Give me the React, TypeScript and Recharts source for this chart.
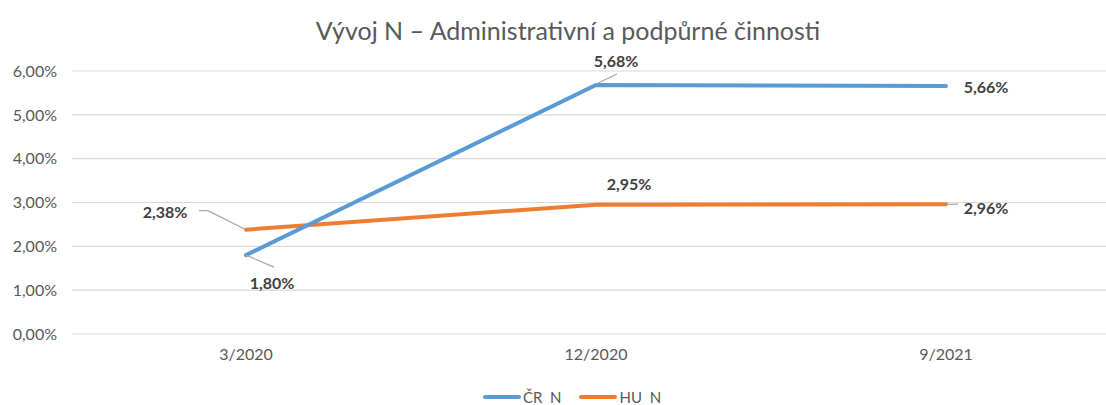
import { LineChart, Line, XAxis, YAxis, CartesianGrid } from 'recharts';

const obdobi = ['3/2020', '12/2020', '9/2021'];
const crN = [1.8, 5.68, 5.66];
const huN = [2.38, 2.95, 2.96];
const yTicks = [0, 1, 2, 3, 4, 5, 6];

const MODRA = '#5B9BD5';
const ORANZOVA = '#ED7D31';
const FONT = 'Lato, "Noto Sans", sans-serif';

// umisteni popisku (posun od bodu) + vodici cary
const crPopisky = [
  { dx: 26, dy: 27, leader: [[0, 0], [28, 12]] },
  { dx: 20, dy: -25, leader: [[0, -1], [21, -11]] },
  { dx: 40, dy: 1 },
];
const huPopisky = [
  { dx: -81, dy: -18, leader: [[0, 0], [-38, -19], [-47, -19]] },
  { dx: 33, dy: -21 },
  { dx: 40, dy: 3, leader: [[0, 0], [12, 0]] },
];

const data = obdobi.map((o, i) => ({ obdobi: o, cr: crN[i], hu: huN[i] }));

const fmt = (v: number) => v.toFixed(2).replace('.', ',') + '%';

const makeLabel = (cfg: any[]) => (props: any) => {
  const { x, y, value, index } = props;
  const c = cfg[index];
  if (!c) return null;
  return (
    <g key={`lbl-${index}`}>
      {c.leader && (
        <polyline
          points={c.leader.map((p: number[]) => `${x + p[0]},${y + p[1]}`).join(' ')}
          fill="none"
          stroke="#a6a6a6"
          strokeWidth={1.2}
        />
      )}
      <text
        x={x + c.dx}
        y={y + c.dy}
        textAnchor="middle"
        dominantBaseline="central"
        fontFamily={FONT}
        fontSize={16}
        fontWeight={700}
        fill="#404040"
      >
        {fmt(value)}
      </text>
    </g>
  );
};

function Legenda() {
  const polozky = [
    { nazev: 'ČR  N', barva: MODRA },
    { nazev: 'HU  N', barva: ORANZOVA },
  ];
  return (
    <div
      style={{
        position: 'absolute',
        top: 387,
        left: 0,
        width: 1106,
        display: 'flex',
        justifyContent: 'center',
        gap: 18,
        paddingLeft: 38,
        boxSizing: 'border-box',
        fontFamily: FONT,
        fontSize: 15,
        lineHeight: '20px',
        color: '#595959',
      }}
    >
      {polozky.map((p) => (
        <div key={p.nazev} style={{ display: 'flex', alignItems: 'center', whiteSpace: 'pre' }}>
          <span style={{ display: 'inline-block', width: 38, height: 4, borderRadius: 2, background: p.barva, marginRight: 2 }} />
          {p.nazev}
        </div>
      ))}
    </div>
  );
}

export default function App() {
  return (
    <div style={{ position: 'fixed', left: 0, top: 0, width: 1106, height: 405, overflow: 'hidden', background: '#fff' }}>
      <div
        style={{
          position: 'absolute',
          top: 14,
          left: 0,
          width: 1136,
          textAlign: 'center',
          fontFamily: FONT,
          fontSize: 25,
          lineHeight: '32px',
          color: '#595959',
        }}
      >
        Vývoj N – Administrativní a podpůrné činnosti
      </div>
      <LineChart width={1130} height={405} data={data} margin={{ top: 71, right: 10, bottom: 41, left: 0 }}>
        <CartesianGrid horizontal vertical={false} stroke="#d9d9d9" strokeWidth={1.2} />
        <XAxis
          dataKey="obdobi"
          axisLine={false}
          tickLine={false}
          height={30}
          tickMargin={9}
          padding={{ left: 174, right: 174 }}
          tick={{ fontFamily: FONT, fontSize: 16, fill: '#595959' }}
        />
        <YAxis
          domain={[0, 6]}
          ticks={yTicks}
          width={72}
          axisLine={false}
          tickLine={false}
          tickMargin={9}
          tickFormatter={fmt}
          tick={{ fontFamily: FONT, fontSize: 16, fill: '#595959' }}
        />
        <Line
          dataKey="hu"
          stroke={ORANZOVA}
          strokeWidth={4}
          strokeLinecap="round"
          dot={false}
          isAnimationActive={false}
          label={makeLabel(huPopisky)}
        />
        <Line
          dataKey="cr"
          stroke={MODRA}
          strokeWidth={4}
          strokeLinecap="round"
          dot={false}
          isAnimationActive={false}
          label={makeLabel(crPopisky)}
        />
      </LineChart>
      <Legenda />
    </div>
  );
}
